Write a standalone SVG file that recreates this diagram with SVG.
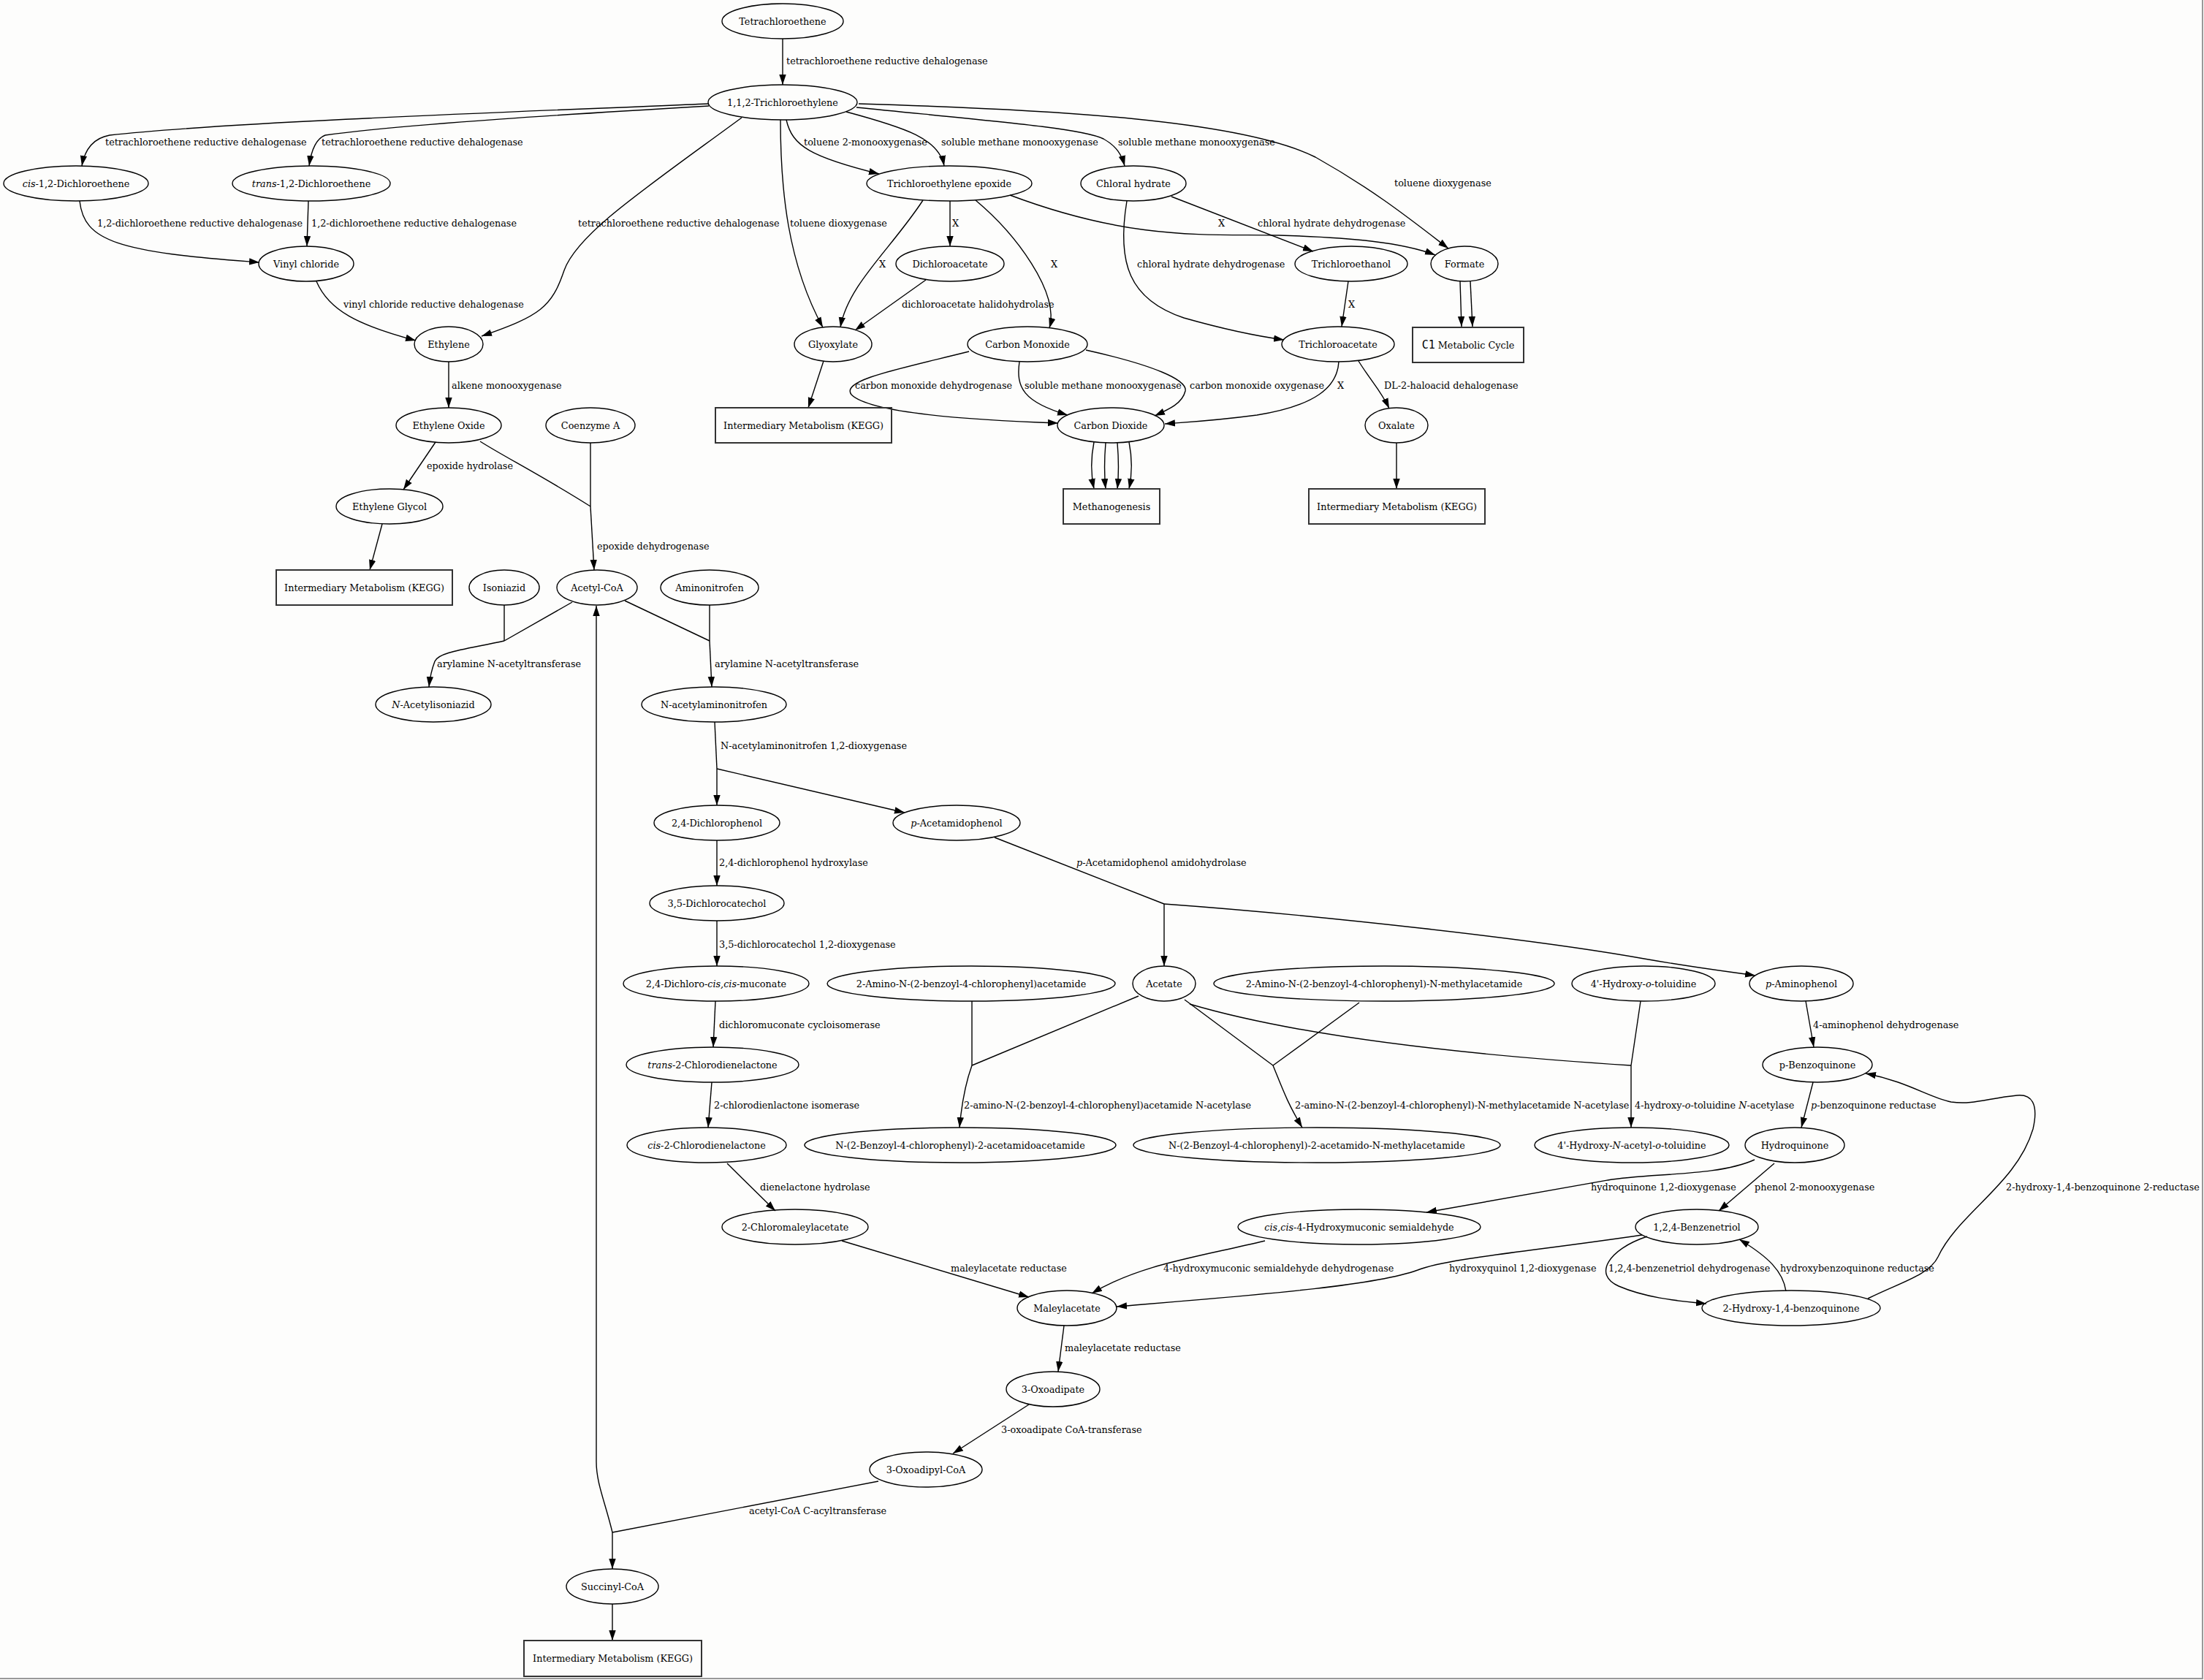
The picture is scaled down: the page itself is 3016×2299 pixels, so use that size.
<svg xmlns="http://www.w3.org/2000/svg" width="3016" height="2299" viewBox="0 0 3016 2299">
<defs>
<style>
.n ellipse{fill:none;stroke:#000;stroke-width:1.4}
.n rect{fill:none;stroke:#333;stroke-width:2}
text{font-family:"DejaVu Serif","Liberation Serif",serif;font-size:12.8px;fill:#000}
.n text{text-anchor:middle}
.lb text{text-anchor:start}
.i{font-style:italic}
#edges path{fill:none;stroke:#000;stroke-width:1.4}
#edges path.a{marker-end:url(#arr)}
</style>
<marker id="arr" markerUnits="userSpaceOnUse" markerWidth="15" markerHeight="11" viewBox="0 0 15 11" refX="14" refY="5.5" orient="auto"><path d="M0,0.8 L14,5.5 L0,10.2 z" fill="#000"/></marker>
</defs>
<rect x="0" y="0" width="3016" height="2299" fill="#fdfdfc"/>
<path d="M3014,0 V2297 H0" fill="none" stroke="#999" stroke-width="2"/>

<g id="edges">
<path class="a" d="M1071,53 L1071,116"/>
<path class="a" d="M970,142 C700,153 300,168 150,185 C128,189 116,205 112,227"/>
<path class="a" d="M970,145 C800,155 550,170 445,185 C432,190 426,205 423,227"/>
<path class="a" d="M1015,161 C880,260 790,320 772,370 C755,420 740,432 659,460"/>
<path class="a" d="M1068,164 C1068,260 1078,360 1126,448"/>
<path class="a" d="M1076,164 C1084,200 1110,215 1203,238"/>
<path class="a" d="M1158,153 C1240,175 1285,190 1292,227"/>
<path class="a" d="M1172,147 C1350,165 1480,175 1510,190 C1528,200 1535,212 1539,227"/>
<path class="a" d="M1175,142 C1450,150 1700,165 1800,215 C1880,260 1930,300 1982,340"/>
<path class="a" d="M1263,274 C1220,340 1160,390 1150,448"/>
<path class="a" d="M1300,275 L1300,337"/>
<path class="a" d="M1335,274 C1390,320 1450,400 1436,449"/>
<path class="a" d="M1382,267 C1550,330 1650,320 1750,322 C1850,325 1920,332 1964,349"/>
<path class="a" d="M1603,269 L1797,344"/>
<path class="a" d="M1542,275 C1528,360 1545,410 1620,435 C1680,452 1720,460 1757,465"/>
<path class="a" d="M1845,385 L1836,447"/>
<path class="a" d="M1998,385 L2000,447"/>
<path class="a" d="M2012,385 L2015,447"/>
<path class="a" d="M1267,383 L1170,452"/>
<path class="a" d="M1127,494 L1106,558"/>
<path class="a" d="M1326,481 C1230,505 1150,520 1165,540 C1190,565 1330,575 1448,579"/>
<path class="a" d="M1395,495 C1390,530 1400,550 1461,568"/>
<path class="a" d="M1486,479 C1580,500 1625,520 1622,535 C1618,552 1600,560 1580,569"/>
<path class="a" d="M1832,495 C1830,530 1800,555 1720,568 C1660,576 1620,578 1594,580"/>
<path class="a" d="M1859,494 C1875,520 1890,535 1901,559"/>
<path class="a" d="M1497,605 C1492,630 1493,650 1497,669"/>
<path class="a" d="M1513,606 C1511,630 1511,650 1513,669"/>
<path class="a" d="M1529,606 C1531,630 1531,650 1529,669"/>
<path class="a" d="M1545,605 C1550,630 1549,650 1545,669"/>
<path class="a" d="M1911,606 L1911,669"/>
<path class="a" d="M109,275 C115,330 160,345 355,359"/>
<path class="a" d="M422,275 L420,337"/>
<path class="a" d="M433,385 C450,425 490,445 569,466"/>
<path class="a" d="M614,495 L614,558"/>
<path class="a" d="M596,605 L552,670"/>
<path d="M657,604 C690,625 740,650 808,693"/>
<path d="M808,606 L808,693"/>
<path class="a" d="M808,693 L813,780"/>
<path class="a" d="M523,717 L506,780"/>
<path d="M690,828 L690,877"/>
<path d="M783,824 L690,877"/>
<path class="a" d="M690,877 C640,888 600,892 595,905 C590,918 588,930 587,940"/>
<path d="M855,822 L971,877"/>
<path d="M971,828 L971,877"/>
<path class="a" d="M971,877 L974,940"/>
<path class="a" d="M838,2097 C828,2055 816,2030 816,2000 L816,829"/>
<path d="M1202,2027 L838,2097"/>
<path class="a" d="M838,2097 L838,2147"/>
<path class="a" d="M838,2195 L838,2245"/>
<path d="M978,988 L981,1052"/>
<path class="a" d="M981,1052 L981,1102"/>
<path class="a" d="M981,1052 L1238,1112"/>
<path class="a" d="M981,1150 L981,1212"/>
<path class="a" d="M981,1260 L981,1322"/>
<path class="a" d="M979,1370 L976,1433"/>
<path class="a" d="M974,1481 L969,1543"/>
<path class="a" d="M995,1592 L1061,1657"/>
<path class="a" d="M1152,1698 L1408,1775"/>
<path class="a" d="M1731,1698 C1640,1720 1560,1730 1494,1770"/>
<path class="a" d="M2247,1690 C2100,1712 1980,1722 1940,1738 C1880,1760 1720,1772 1528,1788"/>
<path class="a" d="M1456,1814 L1448,1877"/>
<path class="a" d="M1408,1922 L1304,1989"/>
<path class="a" d="M2401,1587 C2350,1610 2260,1605 2200,1615 C2100,1632 2000,1650 1952,1659"/>
<path class="a" d="M2428,1592 L2352,1657"/>
<path class="a" d="M2254,1692 C2200,1710 2180,1745 2215,1760 C2250,1775 2290,1780 2335,1784"/>
<path class="a" d="M2444,1767 C2440,1740 2420,1720 2380,1696"/>
<path class="a" d="M2556,1777 C2600,1755 2640,1745 2652,1720 C2680,1660 2760,1620 2782,1545 C2790,1510 2780,1497 2760,1499 C2720,1503 2700,1512 2670,1508 C2640,1502 2610,1480 2553,1469"/>
<path class="a" d="M2471,1370 L2482,1433"/>
<path class="a" d="M2481,1481 L2465,1543"/>
<path d="M1361,1146 L1593,1237"/>
<path class="a" d="M1593,1237 L1593,1322"/>
<path class="a" d="M1593,1237 C1800,1252 2100,1285 2250,1312 C2330,1326 2370,1330 2402,1335"/>
<path d="M1330,1370 L1330,1458"/>
<path d="M1558,1363 L1330,1458"/>
<path class="a" d="M1330,1458 C1322,1480 1316,1510 1313,1543"/>
<path d="M1621,1368 L1742,1458"/>
<path d="M1860,1372 L1742,1458"/>
<path class="a" d="M1742,1458 C1755,1490 1762,1510 1782,1543"/>
<path d="M1628,1374 C1750,1410 1950,1440 2232,1458"/>
<path d="M2245,1370 L2232,1458"/>
<path class="a" d="M2232,1458 L2232,1543"/>
</g>

<g class="lb" id="edge-labels">
<text x="1076" y="88">tetrachloroethene reductive dehalogenase</text>
<text x="144" y="199">tetrachloroethene reductive dehalogenase</text>
<text x="440" y="199">tetrachloroethene reductive dehalogenase</text>
<text x="1100" y="199">toluene 2-monooxygenase</text>
<text x="1288" y="199">soluble methane monooxygenase</text>
<text x="1530" y="199">soluble methane monooxygenase</text>
<text x="1908" y="255">toluene dioxygenase</text>
<text x="133" y="310">1,2-dichloroethene reductive dehalogenase</text>
<text x="426" y="310">1,2-dichloroethene reductive dehalogenase</text>
<text x="791" y="310">tetrachloroethene reductive dehalogenase</text>
<text x="1081" y="310">toluene dioxygenase</text>
<text x="1203" y="366">X</text>
<text x="1303" y="310">X</text>
<text x="1438" y="366">X</text>
<text x="1667" y="310">X</text>
<text x="1721" y="310">chloral hydrate dehydrogenase</text>
<text x="1556" y="366">chloral hydrate dehydrogenase</text>
<text x="470" y="421">vinyl chloride reductive dehalogenase</text>
<text x="1234" y="421">dichloroacetate halidohydrolase</text>
<text x="1845" y="421">X</text>
<text x="618" y="532">alkene monooxygenase</text>
<text x="1170" y="532">carbon monoxide dehydrogenase</text>
<text x="1402" y="532">soluble methane monooxygenase</text>
<text x="1628" y="532">carbon monoxide oxygenase</text>
<text x="1830" y="532">X</text>
<text x="1894" y="532">DL-2-haloacid dehalogenase</text>
<text x="584" y="642">epoxide hydrolase</text>
<text x="817" y="752">epoxide dehydrogenase</text>
<text x="598" y="913">arylamine N-acetyltransferase</text>
<text x="978" y="913">arylamine N-acetyltransferase</text>
<text x="986" y="1025">N-acetylaminonitrofen 1,2-dioxygenase</text>
<text x="984" y="1185">2,4-dichlorophenol hydroxylase</text>
<text x="1473" y="1185"><tspan class="i">p</tspan>-Acetamidophenol amidohydrolase</text>
<text x="984" y="1297">3,5-dichlorocatechol 1,2-dioxygenase</text>
<text x="984" y="1407">dichloromuconate cycloisomerase</text>
<text x="2481" y="1407">4-aminophenol dehydrogenase</text>
<text x="977" y="1517">2-chlorodienlactone isomerase</text>
<text x="1319" y="1517">2-amino-N-(2-benzoyl-4-chlorophenyl)acetamide N-acetylase</text>
<text x="1772" y="1517">2-amino-N-(2-benzoyl-4-chlorophenyl)-N-methylacetamide N-acetylase</text>
<text x="2237" y="1517">4-hydroxy-<tspan class="i">o</tspan>-toluidine <tspan class="i">N</tspan>-acetylase</text>
<text x="2478" y="1517"><tspan class="i">p</tspan>-benzoquinone reductase</text>
<text x="1040" y="1629">dienelactone hydrolase</text>
<text x="2177" y="1629">hydroquinone 1,2-dioxygenase</text>
<text x="2401" y="1629">phenol 2-monooxygenase</text>
<text x="2745" y="1629">2-hydroxy-1,4-benzoquinone 2-reductase</text>
<text x="1301" y="1740">maleylacetate reductase</text>
<text x="1592" y="1740">4-hydroxymuconic semialdehyde dehydrogenase</text>
<text x="1983" y="1740">hydroxyquinol 1,2-dioxygenase</text>
<text x="2201" y="1740">1,2,4-benzenetriol dehydrogenase</text>
<text x="2436" y="1740">hydroxybenzoquinone reductase</text>
<text x="1457" y="1849">maleylacetate reductase</text>
<text x="1370" y="1961">3-oxoadipate CoA-transferase</text>
<text x="1025" y="2072">acetyl-CoA C-acyltransferase</text>
</g>

<g class="n" id="n_tetrachloroethene"><ellipse cx="1071" cy="29" rx="83" ry="24"/><text x="1071" y="33.5">Tetrachloroethene</text></g>
<g class="n" id="n_tce"><ellipse cx="1071" cy="140" rx="102" ry="24"/><text x="1071" y="144.5">1,1,2-Trichloroethylene</text></g>
<g class="n" id="n_cisdce"><ellipse cx="104" cy="251" rx="99" ry="24"/><text x="104" y="255.5"><tspan class="i">cis</tspan>-1,2-Dichloroethene</text></g>
<g class="n" id="n_transdce"><ellipse cx="426" cy="251" rx="108" ry="24"/><text x="426" y="255.5"><tspan class="i">trans</tspan>-1,2-Dichloroethene</text></g>
<g class="n" id="n_epoxide"><ellipse cx="1299" cy="251" rx="113" ry="24"/><text x="1299" y="255.5">Trichloroethylene epoxide</text></g>
<g class="n" id="n_chloral"><ellipse cx="1551" cy="251" rx="72" ry="24"/><text x="1551" y="255.5">Chloral hydrate</text></g>
<g class="n" id="n_vinyl"><ellipse cx="419" cy="361" rx="65" ry="24"/><text x="419" y="365.5">Vinyl chloride</text></g>
<g class="n" id="n_dca"><ellipse cx="1300" cy="361" rx="74" ry="24"/><text x="1300" y="365.5">Dichloroacetate</text></g>
<g class="n" id="n_tcethanol"><ellipse cx="1849" cy="361" rx="77" ry="24"/><text x="1849" y="365.5">Trichloroethanol</text></g>
<g class="n" id="n_formate"><ellipse cx="2004" cy="361" rx="46" ry="24"/><text x="2004" y="365.5">Formate</text></g>
<g class="n" id="n_ethylene"><ellipse cx="614" cy="471" rx="47" ry="24"/><text x="614" y="475.5">Ethylene</text></g>
<g class="n" id="n_glyoxylate"><ellipse cx="1140" cy="471" rx="53" ry="24"/><text x="1140" y="475.5">Glyoxylate</text></g>
<g class="n" id="n_co"><ellipse cx="1406" cy="471" rx="82" ry="24"/><text x="1406" y="475.5">Carbon Monoxide</text></g>
<g class="n" id="n_tca"><ellipse cx="1831" cy="471" rx="77" ry="24"/><text x="1831" y="475.5">Trichloroacetate</text></g>
<g class="n" id="n_c1"><rect x="1933" y="448" width="152" height="48"/><text x="2009" y="476.5"><tspan font-family="DejaVu Sans Mono" font-size="15">C1</tspan> Metabolic Cycle</text></g>
<g class="n" id="n_eo"><ellipse cx="614" cy="582" rx="72" ry="24"/><text x="614" y="586.5">Ethylene Oxide</text></g>
<g class="n" id="n_coa"><ellipse cx="808" cy="582" rx="61" ry="24"/><text x="808" y="586.5">Coenzyme A</text></g>
<g class="n" id="n_kegg1"><rect x="979" y="558" width="241" height="48"/><text x="1099.5" y="586.5">Intermediary Metabolism (KEGG)</text></g>
<g class="n" id="n_co2"><ellipse cx="1520" cy="582" rx="73" ry="24"/><text x="1520" y="586.5">Carbon Dioxide</text></g>
<g class="n" id="n_oxalate"><ellipse cx="1911" cy="582" rx="43" ry="24"/><text x="1911" y="586.5">Oxalate</text></g>
<g class="n" id="n_eg"><ellipse cx="533" cy="693" rx="73" ry="24"/><text x="533" y="697.5">Ethylene Glycol</text></g>
<g class="n" id="n_methano"><rect x="1455" y="669" width="132" height="48"/><text x="1521" y="697.5">Methanogenesis</text></g>
<g class="n" id="n_kegg2"><rect x="1791" y="669" width="241" height="48"/><text x="1911.5" y="697.5">Intermediary Metabolism (KEGG)</text></g>
<g class="n" id="n_kegg3"><rect x="378" y="780" width="241" height="48"/><text x="498.5" y="808.5">Intermediary Metabolism (KEGG)</text></g>
<g class="n" id="n_isoniazid"><ellipse cx="690" cy="804" rx="48" ry="24"/><text x="690" y="808.5">Isoniazid</text></g>
<g class="n" id="n_acetylcoa"><ellipse cx="817" cy="804" rx="55" ry="24"/><text x="817" y="808.5">Acetyl-CoA</text></g>
<g class="n" id="n_aminonitrofen"><ellipse cx="971" cy="804" rx="67" ry="24"/><text x="971" y="808.5">Aminonitrofen</text></g>
<g class="n" id="n_acisoniazid"><ellipse cx="593" cy="964" rx="79" ry="24"/><text x="593" y="968.5"><tspan class="i">N</tspan>-Acetylisoniazid</text></g>
<g class="n" id="n_acnitrofen"><ellipse cx="977" cy="964" rx="99" ry="24"/><text x="977" y="968.5">N-acetylaminonitrofen</text></g>
<g class="n" id="n_dcp"><ellipse cx="981" cy="1126" rx="86" ry="24"/><text x="981" y="1130.5">2,4-Dichlorophenol</text></g>
<g class="n" id="n_pacet"><ellipse cx="1309" cy="1126" rx="87" ry="24"/><text x="1309" y="1130.5"><tspan class="i">p</tspan>-Acetamidophenol</text></g>
<g class="n" id="n_dccat"><ellipse cx="981" cy="1236" rx="92" ry="24"/><text x="981" y="1240.5">3,5-Dichlorocatechol</text></g>
<g class="n" id="n_muconate"><ellipse cx="980" cy="1346" rx="127" ry="24"/><text x="980" y="1350.5">2,4-Dichloro-<tspan class="i">cis,cis</tspan>-muconate</text></g>
<g class="n" id="n_amino1"><ellipse cx="1329" cy="1346" rx="197" ry="24"/><text x="1329" y="1350.5">2-Amino-N-(2-benzoyl-4-chlorophenyl)acetamide</text></g>
<g class="n" id="n_acetate"><ellipse cx="1593" cy="1346" rx="43" ry="24"/><text x="1593" y="1350.5">Acetate</text></g>
<g class="n" id="n_amino2"><ellipse cx="1894" cy="1346" rx="233" ry="24"/><text x="1894" y="1350.5">2-Amino-N-(2-benzoyl-4-chlorophenyl)-N-methylacetamide</text></g>
<g class="n" id="n_hotol"><ellipse cx="2249" cy="1346" rx="98" ry="24"/><text x="2249" y="1350.5">4'-Hydroxy-<tspan class="i">o</tspan>-toluidine</text></g>
<g class="n" id="n_paminophenol"><ellipse cx="2465" cy="1346" rx="71" ry="24"/><text x="2465" y="1350.5"><tspan class="i">p</tspan>-Aminophenol</text></g>
<g class="n" id="n_transcdl"><ellipse cx="975" cy="1457" rx="118" ry="24"/><text x="975" y="1461.5"><tspan class="i">trans</tspan>-2-Chlorodienelactone</text></g>
<g class="n" id="n_pbq"><ellipse cx="2487" cy="1457" rx="75" ry="24"/><text x="2487" y="1461.5">p-Benzoquinone</text></g>
<g class="n" id="n_ciscdl"><ellipse cx="967" cy="1567" rx="109" ry="24"/><text x="967" y="1571.5"><tspan class="i">cis</tspan>-2-Chlorodienelactone</text></g>
<g class="n" id="n_prod1"><ellipse cx="1314" cy="1567" rx="213" ry="24"/><text x="1314" y="1571.5">N-(2-Benzoyl-4-chlorophenyl)-2-acetamidoacetamide</text></g>
<g class="n" id="n_prod2"><ellipse cx="1802" cy="1567" rx="251" ry="24"/><text x="1802" y="1571.5">N-(2-Benzoyl-4-chlorophenyl)-2-acetamido-N-methylacetamide</text></g>
<g class="n" id="n_hnatol"><ellipse cx="2233" cy="1567" rx="133" ry="24"/><text x="2233" y="1571.5">4'-Hydroxy-<tspan class="i">N</tspan>-acetyl-<tspan class="i">o</tspan>-toluidine</text></g>
<g class="n" id="n_hq"><ellipse cx="2456" cy="1567" rx="68" ry="24"/><text x="2456" y="1571.5">Hydroquinone</text></g>
<g class="n" id="n_cma"><ellipse cx="1088" cy="1679" rx="100" ry="24"/><text x="1088" y="1683.5">2-Chloromaleylacetate</text></g>
<g class="n" id="n_hms"><ellipse cx="1860" cy="1679" rx="166" ry="24"/><text x="1860" y="1683.5"><tspan class="i">cis,cis</tspan>-4-Hydroxymuconic semialdehyde</text></g>
<g class="n" id="n_bt"><ellipse cx="2322" cy="1679" rx="84" ry="24"/><text x="2322" y="1683.5">1,2,4-Benzenetriol</text></g>
<g class="n" id="n_ma"><ellipse cx="1460" cy="1790" rx="68" ry="24"/><text x="1460" y="1794.5">Maleylacetate</text></g>
<g class="n" id="n_hbq"><ellipse cx="2451" cy="1790" rx="122" ry="24"/><text x="2451" y="1794.5">2-Hydroxy-1,4-benzoquinone</text></g>
<g class="n" id="n_oxoadipate"><ellipse cx="1441" cy="1901" rx="64" ry="24"/><text x="1441" y="1905.5">3-Oxoadipate</text></g>
<g class="n" id="n_oxoadipylcoa"><ellipse cx="1267" cy="2011" rx="77" ry="24"/><text x="1267" y="2015.5">3-Oxoadipyl-CoA</text></g>
<g class="n" id="n_succinylcoa"><ellipse cx="838" cy="2171" rx="63" ry="24"/><text x="838" y="2175.5">Succinyl-CoA</text></g>
<g class="n" id="n_kegg4"><rect x="717" y="2245" width="243" height="49"/><text x="838.5" y="2274">Intermediary Metabolism (KEGG)</text></g>
</svg>
